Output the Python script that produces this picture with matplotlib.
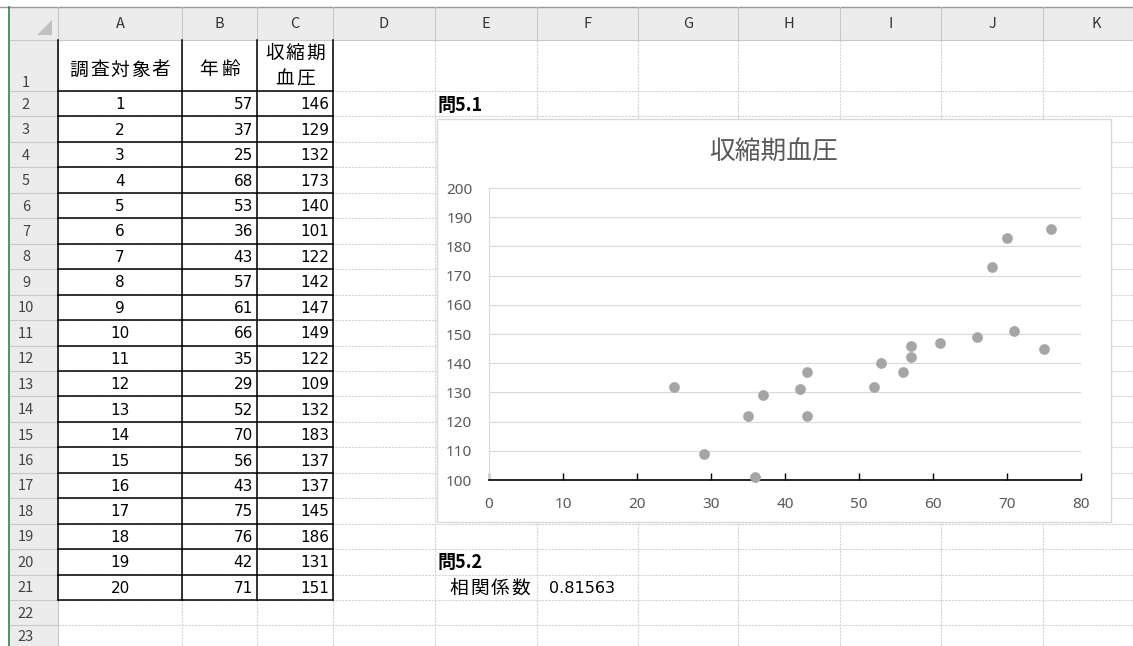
import matplotlib.pyplot as plt
from matplotlib.patches import Rectangle, Polygon

plt.rcParams['font.family'] = ['Noto Sans CJK JP', 'DejaVu Sans']

# data from the sheet
subjects = list(range(1, 21))
ages = [57, 37, 25, 68, 53, 36, 43, 57, 61, 66, 35, 29, 52, 70, 56, 43, 75, 76, 42, 71]
bp = [146, 129, 132, 173, 140, 101, 122, 142, 147, 149, 122, 109, 132, 183, 137, 137, 145, 186, 131, 151]
headers = ['調査対象者', '年齢', '収縮期\n血圧']
col_letters = ['A', 'B', 'C', 'D', 'E', 'F', 'G', 'H', 'I', 'J', 'K']
corr_label = '相関係数'
corr_value = '0.81563'
chart_title = '収縮期血圧'

# sheet geometry in pixels
col_edges = [10, 58, 182, 257, 333, 435, 537, 638, 738, 840, 941, 1043, 1150]
head_top, head_bot = 7, 40
row1_bot = 91
row_h = 25.45
n_rows = 23
row_edges = [head_bot, row1_bot] + [row1_bot + row_h * i for i in range(1, n_rows)]

fig = plt.figure(figsize=(11.33, 6.46), dpi=100)
ax = fig.add_axes([0, 0, 1, 1])
ax.set_xlim(0, 1133)
ax.set_ylim(646, 0)
ax.axis('off')

grid_c = '#d4d4d4'
hdr_bg = '#ececec'
hdr_line = '#c8c8c8'
num_font = ['DejaVu Sans']


def spaced_text(x, y, s, step=20.5, ha='center', **kw):
    # Excel-like wide spacing for the Japanese cell text
    w = step * len(s)
    if ha == 'center':
        x0 = x - w / 2
    elif ha == 'right':
        x0 = x - w
    else:
        x0 = x
    for i, ch in enumerate(s):
        ax.text(x0 + step * (i + 0.5), y, ch, ha='center', va='center', **kw)


# cell gridlines
for x in col_edges[1:]:
    ax.plot([x, x], [head_bot, 646], color=grid_c, lw=0.8, ls=(0, (2, 1)), zorder=1)
for y in row_edges[1:]:
    ax.plot([col_edges[1], 1133], [y, y], color=grid_c, lw=0.8, ls=(0, (2, 1)), zorder=1)

# headers
ax.add_patch(Rectangle((col_edges[0], head_top), 1133 - col_edges[0], head_bot - head_top,
                       facecolor=hdr_bg, edgecolor='none', zorder=2))
ax.add_patch(Rectangle((col_edges[0], head_bot), col_edges[1] - col_edges[0], 646 - head_bot,
                       facecolor=hdr_bg, edgecolor='none', zorder=2))
ax.plot([0, 1133], [head_top, head_top], color='#9a9a9a', lw=1, zorder=3)
ax.plot([9, 9], [head_top, 646], color='#3f7a4f', lw=1.2, zorder=3)
ax.add_patch(Polygon([[52, 20], [52, 35], [37, 35]], closed=True, facecolor='#c0c0c0',
                     edgecolor='none', zorder=3))
for i, letter in enumerate(col_letters):
    x0, x1 = col_edges[i + 1], col_edges[i + 2]
    ax.plot([x0, x0], [head_top, head_bot], color=hdr_line, lw=0.8, zorder=3)
    ax.text((x0 + x1) / 2, (head_top + head_bot) / 2 + 1, letter,
            ha='center', va='center', fontsize=10.5, color='#333333', zorder=4)
ax.plot([col_edges[0], 1133], [head_bot, head_bot], color=hdr_line, lw=0.8, zorder=3)
ax.plot([col_edges[1], col_edges[1]], [head_top, 646], color=hdr_line, lw=0.8, zorder=3)
for r in range(n_rows):
    y0, y1 = row_edges[r], row_edges[r + 1]
    ax.plot([col_edges[0], col_edges[1]], [y1, y1], color=hdr_line, lw=0.8, zorder=3)
    yl = y1 - 8 if r == 0 else (y0 + y1) / 2 + 1
    ax.text(26, min(yl, 637), str(r + 1), ha='center', va='center', fontsize=10.5,
            color='#444444', zorder=4)

# table header row
spaced_text((col_edges[1] + col_edges[2]) / 2, 70, headers[0], fontsize=13.5, zorder=4)
spaced_text((col_edges[2] + col_edges[3]) / 2, 70, headers[1], step=23, fontsize=13.5, zorder=4)
top, bottom = headers[2].split('\n')
spaced_text((col_edges[3] + col_edges[4]) / 2, 53, top, fontsize=13.5, zorder=4)
spaced_text((col_edges[3] + col_edges[4]) / 2, 79, bottom, fontsize=13.5, zorder=4)

# table values
for k in range(len(subjects)):
    y0, y1 = row_edges[k + 1], row_edges[k + 2]
    yc = (y0 + y1) / 2 + 1
    ax.text((col_edges[1] + col_edges[2]) / 2, yc, str(subjects[k]), ha='center', va='center',
            fontsize=11, family=num_font, zorder=4)
    ax.text(col_edges[3] - 4, yc, str(ages[k]), ha='right', va='center', fontsize=11,
            family=num_font, zorder=4)
    ax.text(col_edges[4] - 4, yc, str(bp[k]), ha='right', va='center', fontsize=11,
            family=num_font, zorder=4)

# table borders
t_bot = row_edges[len(subjects) + 1]
for x in col_edges[1:5]:
    ax.plot([x, x], [head_bot, t_bot], color='black', lw=1.1, zorder=5)
for y in row_edges[1:len(subjects) + 2]:
    ax.plot([col_edges[1], col_edges[4]], [y, y], color='black', lw=1.1, zorder=5)

# labels near chart
ax.text(438, 105, '問5.1', ha='left', va='center', fontsize=13, fontweight='bold', zorder=4)
ax.text(438, row_edges[19] + row_h / 2 + 1, '問5.2', ha='left', va='center', fontsize=13,
        fontweight='bold', zorder=4)
spaced_text(col_edges[6] - 6, row_edges[20] + row_h / 2 + 1, corr_label, ha='right',
            fontsize=13.5, zorder=4)
ax.text(col_edges[6] + 12, row_edges[20] + row_h / 2 + 1, corr_value, ha='left', va='center',
        fontsize=11.5, family=num_font, zorder=4)

# chart area
ax.add_patch(Rectangle((437, 119), 1111 - 437, 522 - 119, facecolor='white',
                       edgecolor='#d9d9d9', lw=1, zorder=6))
ax.text(773, 153, chart_title, ha='center', va='center', fontsize=18.5, color='#595959', zorder=7)

cax = fig.add_axes([489 / 1133, (646 - 480) / 646, 592 / 1133, 292 / 646], zorder=10)
cax.patch.set_alpha(0)
cax.scatter(ages, bp, s=45, color='#a5a5a5', zorder=3, clip_on=False)
cax.set_xlim(0, 80)
cax.set_ylim(100, 200)
cax.set_xticks(range(0, 81, 10))
cax.set_yticks(range(100, 201, 10))
cax.grid(axis='y', color='#d9d9d9', lw=0.8)
cax.set_axisbelow(True)
for s in ['top', 'right']:
    cax.spines[s].set_visible(False)
cax.spines['left'].set_color('#d9d9d9')
cax.spines['bottom'].set_color('black')
cax.spines['bottom'].set_linewidth(1.2)
cax.tick_params(axis='x', direction='in', length=5, width=1, color='black',
                labelsize=11, labelcolor='#595959', pad=12)
cax.tick_params(axis='y', length=0, labelsize=11, labelcolor='#595959', pad=12)
for lab in cax.get_xticklabels() + cax.get_yticklabels():
    lab.set_family(['Noto Sans', 'DejaVu Sans'])

fig.savefig('out.png', dpi=100)
